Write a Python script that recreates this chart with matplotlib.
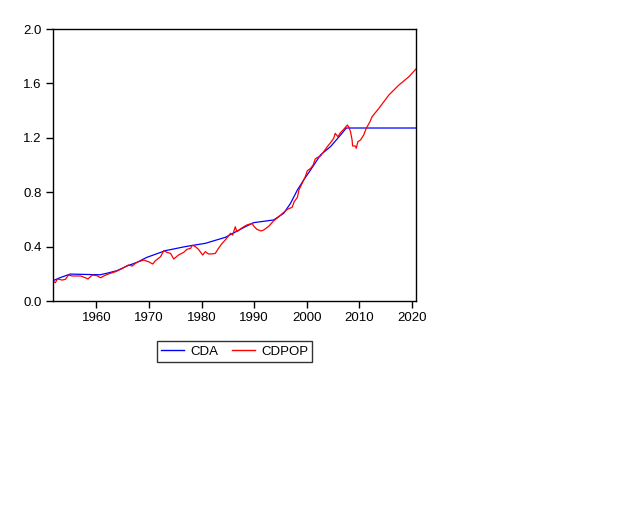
import matplotlib
matplotlib.use("Agg")
import matplotlib.pyplot as plt

plt.rcParams['font.family'] = ['Liberation Sans', 'DejaVu Sans']

# CDA (blue) readings: decimal year, value
cda_t = [1951.8, 1953.0, 1955.0, 1960.7, 1962.0, 1963.9, 1965.8, 1967.7, 1969.6,
         1973.1, 1976.9, 1980.7, 1984.5, 1988.3, 1989.9, 1993.7, 1995.6, 1996.9,
         1998.2, 1999.4, 2000.7, 2002.6, 2004.5, 2006.4, 2007.5, 2020.75]
cda_v = [0.150, 0.170, 0.198, 0.193, 0.204, 0.223, 0.257, 0.284, 0.321,
         0.370, 0.400, 0.424, 0.468, 0.546, 0.576, 0.596, 0.645, 0.718,
         0.816, 0.890, 0.963, 1.074, 1.135, 1.220, 1.272, 1.272]

# CDPOP (red) readings
cdpop_t = [1951.8, 1952.2, 1952.6, 1953.5, 1954.1, 1954.7, 1955.4, 1957.0, 1957.9,
           1958.4, 1959.2, 1960.1, 1960.8, 1961.4, 1962.3, 1963.6, 1964.6, 1965.5,
           1966.1, 1966.8, 1967.4, 1968.0, 1969.0, 1969.9, 1970.7, 1971.2, 1972.2,
           1972.8, 1973.4, 1974.1, 1974.7, 1975.6, 1976.6, 1977.2, 1977.9, 1978.2,
           1978.8, 1979.4, 1980.2, 1980.7, 1981.3, 1981.9, 1982.6, 1983.2, 1983.9,
           1984.5, 1985.0, 1985.5, 1985.9, 1986.4, 1986.7, 1987.4, 1988.0, 1988.6,
           1989.6, 1989.9, 1990.5, 1991.3, 1991.8, 1992.8, 1993.7, 1994.7, 1995.5,
           1996.3, 1997.2, 1997.6, 1998.2, 1998.5, 1999.1, 1999.7, 2000.1, 2000.7,
           2001.2, 2001.6, 2002.3, 2002.6, 2003.2, 2003.9, 2004.5, 2005.1, 2005.4,
           2005.9, 2006.4, 2007.0, 2007.7, 2008.0, 2008.3, 2008.6, 2008.7, 2009.2,
           2009.4, 2009.7, 2010.2, 2010.8, 2011.3, 2012.0, 2012.4, 2013.7, 2015.6,
           2017.5, 2019.4, 2020.75]
cdpop_v = [0.142, 0.135, 0.162, 0.154, 0.159, 0.191, 0.184, 0.184, 0.171,
           0.162, 0.191, 0.186, 0.171, 0.184, 0.199, 0.215, 0.233, 0.252,
           0.265, 0.257, 0.277, 0.289, 0.301, 0.289, 0.272, 0.296, 0.326,
           0.370, 0.358, 0.350, 0.309, 0.338, 0.358, 0.380, 0.387, 0.410,
           0.400, 0.380, 0.338, 0.363, 0.346, 0.346, 0.350, 0.387, 0.424,
           0.449, 0.473, 0.498, 0.485, 0.546, 0.510, 0.530, 0.546, 0.559,
           0.571, 0.551, 0.527, 0.515, 0.522, 0.551, 0.590, 0.620, 0.649,
           0.674, 0.689, 0.730, 0.762, 0.816, 0.865, 0.914, 0.958, 0.975,
           1.000, 1.045, 1.061, 1.066, 1.098, 1.135, 1.164, 1.196, 1.233,
           1.208, 1.238, 1.262, 1.294, 1.277, 1.245, 1.184, 1.140, 1.140,
           1.123, 1.171, 1.184, 1.220, 1.270, 1.318, 1.355, 1.417, 1.515,
           1.588, 1.649, 1.706]

x_ticks = [1960, 1970, 1980, 1990, 2000, 2010, 2020]
y_ticks = [0.0, 0.4, 0.8, 1.2, 1.6, 2.0]

fig = plt.figure(figsize=(6.4, 5.12), dpi=100)
ax = fig.add_axes([53/640, 1 - 301/512, (416-53)/640, (301-29)/512])

l1, = ax.plot(cda_t, cda_v, color='#0000ff', lw=0.9, label='CDA')
l2, = ax.plot(cdpop_t, cdpop_v, color='#ff0000', lw=0.9, label='CDPOP')

ax.set_xlim(1951.75, 2020.75)
ax.set_ylim(0, 2.0)
ax.set_xticks(x_ticks)
ax.set_yticks(y_ticks)
ax.set_yticklabels([f"{v:.1f}" for v in y_ticks])
ax.tick_params(direction='out', length=5, width=1, labelsize=9.5, colors='black', pad=3)
for s in ax.spines.values():
    s.set_linewidth(1)
    s.set_color('black')

leg = fig.legend(handles=[l1, l2], loc='center', bbox_to_anchor=(234.5/640, 1 - 351.5/512),
                 ncol=2, fontsize=9.5, frameon=True, fancybox=False, edgecolor='black',
                 handlelength=1.8, handletextpad=0.45, columnspacing=1.0,
                 borderpad=0.3, borderaxespad=0)
leg.get_frame().set_linewidth(1)
for h in leg.get_lines():
    h.set_linewidth(1)

fig.savefig('out.png', dpi=100)
